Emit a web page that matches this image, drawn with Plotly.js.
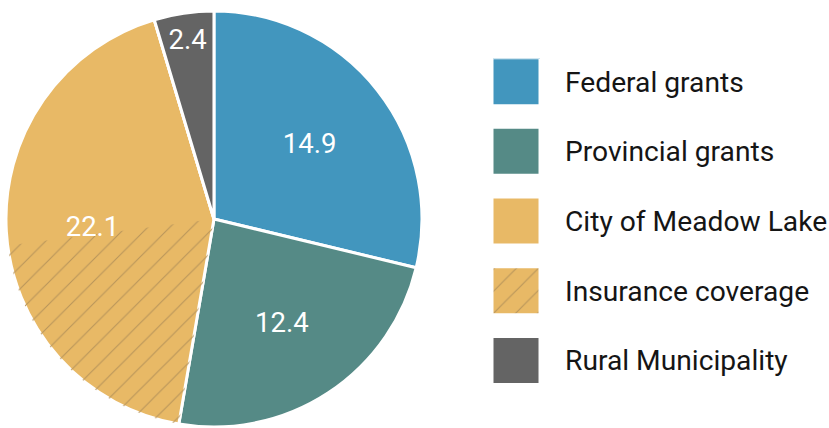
<!DOCTYPE html>
<html>
<head>
<meta charset="utf-8">
<script src="https://cdn.plot.ly/plotly-3.0.1.min.js"></script>
<style>
html,body{margin:0;padding:0;background:#fff;}
#chart{width:829px;height:428px;}
</style>
</head>
<body>
<div id="chart"></div>
<script>
// ---- data ----
const categories = ['Federal grants', 'Provincial grants', 'City of Meadow Lake', 'Insurance coverage', 'Rural Municipality'];
const values = [14.9, 12.4, 22.1, 10.5, 2.4];          // insurance coverage is a portion of the City of Meadow Lake share
const sliceLabels = ['14.9', '12.4', '22.1', '', '2.4'];
const colors = ['#4296be', '#558a86', '#e8b966', '#e8b966', '#646464'];
const patterns = ['', '', '', '/', ''];

const iCity = 2, iIns = 3;

// main pie: insurance is contained in the city slice, so it takes no extra angle here
const mainValues = values.map((v, i) => i === iIns ? 0 : v);

// overlay pie: city split into its insured part and the rest
const overlayOrder = [0, 1, iIns, iCity, 4];
const overlayValues = overlayOrder.map(i => i === iCity ? values[iCity] - values[iIns] : values[i]);
const overlayLabels = overlayOrder.map(i => categories[i]);
const overlayPatterns = overlayOrder.map(i => patterns[i]);

const fontFam = 'Roboto, "Noto Sans", sans-serif';
const domain = {x: [0.0072, 0.509], y: [0.0023, 0.9743]};
const clear = categories.map(() => 'rgba(0,0,0,0)');
const hatchColor = '#b8955a';

const data = [
  {
    // solid slices + legend
    type: 'pie',
    labels: categories.map(c => '<span style="font-size:28.2px">' + c + '</span><br> '),
    values: mainValues,
    textinfo: 'none',
    sort: false,
    direction: 'clockwise',
    rotation: 0,
    domain: domain,
    marker: {
      colors: colors,
      line: {color: '#ffffff', width: 3},
      pattern: {shape: patterns, fgcolor: hatchColor, bgcolor: colors, size: 15.6, solidity: 0.07}
    },
    hoverinfo: 'skip',
    showlegend: true
  },
  {
    // hatch for the insured part of the city share
    type: 'pie',
    labels: overlayLabels,
    values: overlayValues,
    textinfo: 'none',
    sort: false,
    direction: 'clockwise',
    rotation: 0,
    domain: domain,
    marker: {
      colors: clear,
      line: {width: 0},
      pattern: {shape: overlayPatterns, fgcolor: hatchColor, bgcolor: 'rgba(0,0,0,0)', size: 15.6, solidity: 0.07}
    },
    hoverinfo: 'skip',
    showlegend: false
  },
  {
    // value labels
    type: 'pie',
    labels: categories,
    values: mainValues,
    text: sliceLabels,
    textinfo: 'text',
    texttemplate: '%{text}',
    textposition: 'inside',
    insidetextorientation: 'horizontal',
    insidetextfont: {family: fontFam, size: 27.5, color: '#ffffff'},
    hole: 0.17,
    sort: false,
    direction: 'clockwise',
    rotation: 0,
    domain: domain,
    marker: {colors: clear, line: {width: 0}},
    hoverinfo: 'skip',
    showlegend: false
  }
];

const layout = {
  width: 829,
  height: 428,
  margin: {l: 0, r: 0, t: 0, b: 0, autoexpand: false},
  paper_bgcolor: '#ffffff',
  plot_bgcolor: '#ffffff',
  showlegend: true,
  legend: {
    x: 0.5947, xanchor: 'left',
    y: 0.8633, yanchor: 'top',
    font: {family: fontFam, size: 25.65, color: '#151515'},
    valign: 'top',
    itemwidth: 62,
    bgcolor: 'rgba(0,0,0,0)',
    borderwidth: 0,
    traceorder: 'normal'
  }
};

Plotly.newPlot('chart', data, layout, {staticPlot: true, displayModeBar: false}).then(gd => {
  gd.querySelectorAll('.legend path.legendpie').forEach(p => {
    p.setAttribute('d', 'M-24,24H24V-24H-24Z');
    p.setAttribute('transform', 'translate(23,0)');
  });
});
</script>
</body>
</html>
